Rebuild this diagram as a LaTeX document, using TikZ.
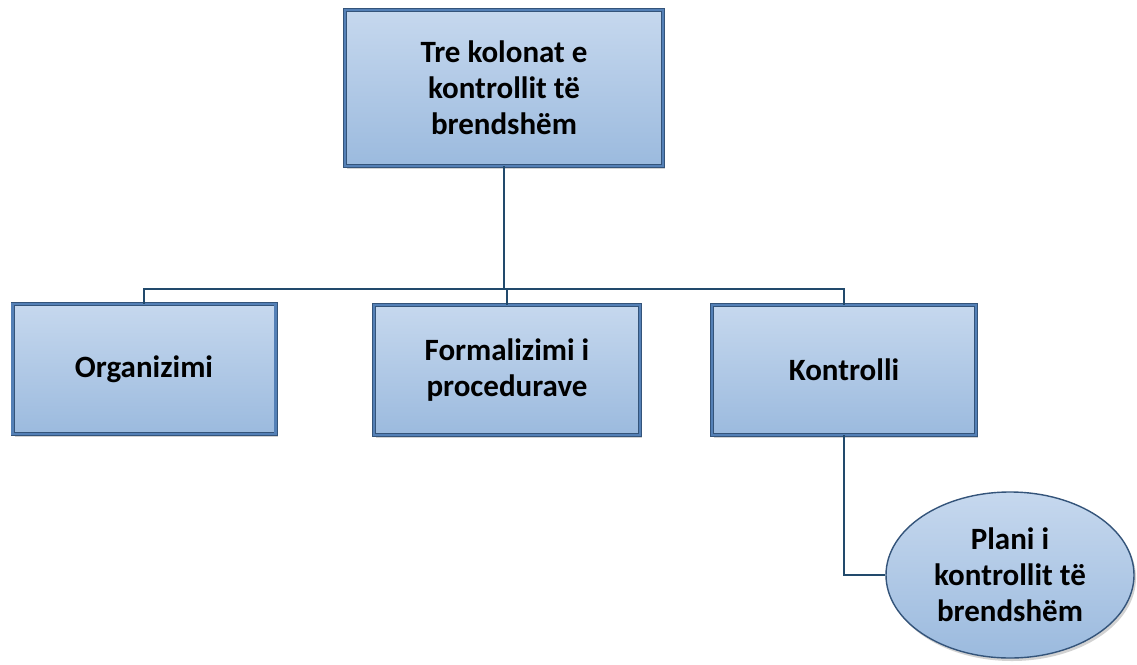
\documentclass[tikz,border=0pt]{standalone}
\usepackage{fontspec}
\setmainfont{Carlito}
\usetikzlibrary{shapes.geometric,shadows}
\definecolor{boxdark}{RGB}{52,84,122}
\definecolor{boxmid}{RGB}{84,128,182}
\definecolor{boxtop}{RGB}{198,216,238}
\definecolor{boxbot}{RGB}{155,186,222}
\definecolor{wire}{RGB}{34,74,108}
\tikzset{
  boxnode/.style={rectangle, draw=boxdark, line width=0.9pt, double=boxmid, double distance=2.2pt,
    top color=boxtop, bottom color=boxbot,
    drop shadow={shadow xshift=2pt, shadow yshift=-3pt, opacity=0.35},
    align=center, inner sep=0pt, font=\fontsize{31}{36}\selectfont\bfseries},
  ovalnode/.style={ellipse, draw=boxdark, line width=1.4pt, top color=boxtop, bottom color=boxbot,
    drop shadow={shadow xshift=2pt, shadow yshift=-3pt, opacity=0.35},
    align=center, inner sep=0pt, font=\fontsize{31}{36}\selectfont\bfseries},
  wireline/.style={draw=wire, line width=2.6pt}
}
\begin{document}
\begin{tikzpicture}[x=1pt,y=-1pt]
\useasboundingbox (0,0) rectangle (1137,664);
\fill[white] (0,0) rectangle (1137,664);
\node[boxnode, minimum width=318pt, minimum height=156pt] (top) at (504,88) {Tre kolonat e\\kontrollit të\\brendshëm};
\node[boxnode, minimum width=263pt, minimum height=130pt] (org) at (144,369) {Organizimi};
\node[boxnode, minimum width=266pt, minimum height=130pt] (form) at (507,370) {Formalizimi i\\procedurave};
\node[boxnode, minimum width=264pt, minimum height=130pt] (kon) at (844,370) {Kontrolli};
\node[ovalnode, minimum width=248pt, minimum height=166pt] (plan) at (1010,575) {Plani i\\kontrollit të\\brendshëm};
\coordinate (bus) at (504,289);
\draw[wireline] (top.south) -- (bus);
\draw[wireline] (org.north) |- (bus) -| (kon.north);
\draw[wireline] (form.north) -- (form.north |- bus);
\draw[wireline] (kon.south) |- (plan.west);
\end{tikzpicture}
\end{document}
